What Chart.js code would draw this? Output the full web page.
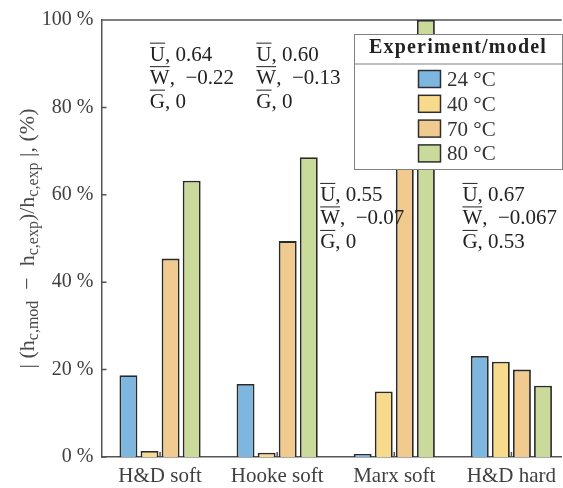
<!DOCTYPE html>
<html>
<head>
<meta charset="utf-8">
<script src="https://cdn.jsdelivr.net/npm/chart.js@4"></script>
<style>
  html, body { margin: 0; padding: 0; background: #fff; }
  #wrap { width: 563px; height: 488px; }
</style>
</head>
<body>
<div id="wrap"><canvas id="errChart" width="563" height="488"></canvas></div>
<script>
// data (relative error in %)
const categories = ['H&D soft', 'Hooke soft', 'Marx soft', 'H&D hard'];
const seriesNames = ['24 °C', '40 °C', '70 °C', '80 °C'];
const err24 = [18.7, 16.7, 0.7, 23.1];
const err40 = [1.4, 1.0, 15.0, 21.8];
const err70 = [45.4, 49.4, 84.0, 20.0];
const err80 = [63.2, 68.6, 100, 16.3];
const yTicks = [0, 20, 40, 60, 80, 100];

// parameter notes above each group
const noteU = ['0.64', '0.60', '0.55', '0.67'];
const noteW = ['−0.22', '−0.13', '−0.07', '−0.067'];
const noteG = ['0', '0', '0', '0.53'];

const fillColors = ['#7db6df', '#f8da8d', '#f0ca8e', '#c9da9b'];
const FONT = "'Liberation Serif', 'Times New Roman', serif";
const AXIS = '#555555';

// where the note blocks sit, in data units (left edge, first line baseline)
const notePos = [[0.913, 90.7], [1.822, 90.7], [2.367, 58.6], [3.582, 58.6]];

const series = [err24, err40, err70, err80];

const drawOverlined = (ctx, letter, rest, x, y) => {
  ctx.fillText(letter, x, y);
  const w = ctx.measureText(letter).width;
  ctx.beginPath();
  ctx.lineWidth = 1;
  ctx.moveTo(x, y - 17.5);
  ctx.lineTo(x + w, y - 17.5);
  ctx.stroke();
  ctx.fillText(rest, x + w, y);
};

const extrasPlugin = {
  id: 'extras',
  beforeDatasetsDraw(chart) {
    const { ctx, chartArea, scales } = chart;
    ctx.save();
    ctx.strokeStyle = AXIS;
    ctx.lineWidth = 1.5;
    ctx.beginPath();
    // top border of the box
    ctx.moveTo(chartArea.left, chartArea.top);
    ctx.lineTo(chartArea.right, chartArea.top);
    // inward ticks
    yTicks.forEach((v) => {
      const y = scales.y.getPixelForValue(v);
      ctx.moveTo(chartArea.left, y);
      ctx.lineTo(chartArea.left + 5, y);
    });
    categories.forEach((c, i) => {
      const x = scales.x.getPixelForValue(i + 1);
      ctx.moveTo(x, chartArea.bottom);
      ctx.lineTo(x, chartArea.bottom - 5);
    });
    ctx.stroke();
    ctx.restore();
  },
  afterDraw(chart) {
    const { ctx, chartArea, scales } = chart;
    ctx.save();

    // y axis title with subscripts
    const main = '22px ' + FONT;
    const sub = '16px ' + FONT;
    const parts = [
      ['| (h', main, 0], ['c,mod', sub, 4], ['  −  h', main, 0], ['c,exp', sub, 4],
      [')/h', main, 0], ['c,exp', sub, 4], [' |, (%)', main, 0]
    ];
    let total = 0;
    parts.forEach((p) => { ctx.font = p[1]; total += ctx.measureText(p[0]).width; });
    ctx.translate(34, (chartArea.top + chartArea.bottom) / 2);
    ctx.rotate(-Math.PI / 2);
    ctx.fillStyle = '#4a4a4a';
    ctx.textBaseline = 'alphabetic';
    let px = -total / 2;
    parts.forEach((p) => {
      ctx.font = p[1];
      ctx.fillText(p[0], px, p[2]);
      px += ctx.measureText(p[0]).width;
    });
    ctx.setTransform(1, 0, 0, 1, 0, 0);

    // notes
    ctx.font = '21px ' + FONT;
    ctx.fillStyle = '#222';
    ctx.strokeStyle = '#222';
    notePos.forEach((pos, i) => {
      const x = scales.x.getPixelForValue(pos[0]);
      const y = scales.y.getPixelForValue(pos[1]);
      drawOverlined(ctx, 'U', ', ' + noteU[i], x, y);
      drawOverlined(ctx, 'W', ',  ' + noteW[i], x, y + 23.5);
      drawOverlined(ctx, 'G', ', ' + noteG[i], x, y + 47);
    });

    // legend box
    const lx = 354, ly = 34.5, lw = 208, lh = 135;
    ctx.fillStyle = '#fff';
    ctx.fillRect(lx, ly, lw, lh);
    ctx.strokeStyle = '#808080';
    ctx.lineWidth = 1;
    ctx.strokeRect(lx + 0.5, ly, lw, lh);
    ctx.beginPath();
    ctx.moveTo(lx, ly + 29.5);
    ctx.lineTo(lx + lw, ly + 29.5);
    ctx.stroke();

    ctx.fillStyle = '#222';
    ctx.font = 'bold 20px ' + FONT;
    ctx.letterSpacing = '1.2px';
    ctx.textAlign = 'center';
    ctx.fillText('Experiment/model', lx + lw / 2, 52.5);
    ctx.letterSpacing = '0px';

    ctx.textAlign = 'left';
    ctx.font = '21px ' + FONT;
    chart.data.datasets.forEach((ds, i) => {
      const cy = 79 + i * 24.8;
      ctx.fillStyle = ds.backgroundColor;
      ctx.fillRect(418.5, cy - 8.5, 22, 17);
      ctx.strokeStyle = '#2e2e2e';
      ctx.lineWidth = 1.5;
      ctx.strokeRect(418.5, cy - 8.5, 22, 17);
      ctx.fillStyle = '#333';
      ctx.fillText(ds.label, 447, cy + 7);
    });
    ctx.restore();
  }
};

Chart.defaults.font.family = FONT;

new Chart(document.getElementById('errChart'), {
  type: 'bar',
  data: {
    datasets: series.map((vals, k) => ({
      label: seriesNames[k],
      data: vals.map((v, i) => ({ x: i + 1, y: v })),
      backgroundColor: fillColors[k],
      borderColor: '#2a2a2a',
      borderWidth: 1.8,
      categoryPercentage: 0.72,
      barPercentage: 0.85,
    })),
  },
  options: {
    responsive: false,
    animation: false,
    devicePixelRatio: 1,
    layout: { padding: { top: 19, left: 0, right: 0, bottom: 0 } },
    plugins: { legend: { display: false }, tooltip: { enabled: false } },
    scales: {
      x: {
        type: 'linear',
        min: 0.5,
        max: 4.43,
        offset: false,
        grid: { display: false, drawTicks: false },
        border: { color: AXIS, width: 1.5 },
        afterBuildTicks: (s) => { s.ticks = categories.map((c, i) => ({ value: i + 1 })); },
        afterFit: (s) => { s.height = 31; },
        ticks: {
          callback: (v) => categories[v - 1],
          font: { size: 21 },
          color: '#404040',
          padding: 7,
          maxRotation: 0,
          autoSkip: false,
        },
      },
      y: {
        min: 0,
        max: 100,
        grid: { display: false, drawTicks: false },
        border: { color: AXIS, width: 1.5 },
        afterBuildTicks: (s) => { s.ticks = yTicks.map((v) => ({ value: v })); },
        afterFit: (s) => { s.width = 101.5; },
        ticks: {
          callback: (v) => v + ' %',
          font: { size: 20 },
          color: '#404040',
          padding: 8,
        },
      },
    },
  },
  plugins: [extrasPlugin],
});
</script>
</body>
</html>
